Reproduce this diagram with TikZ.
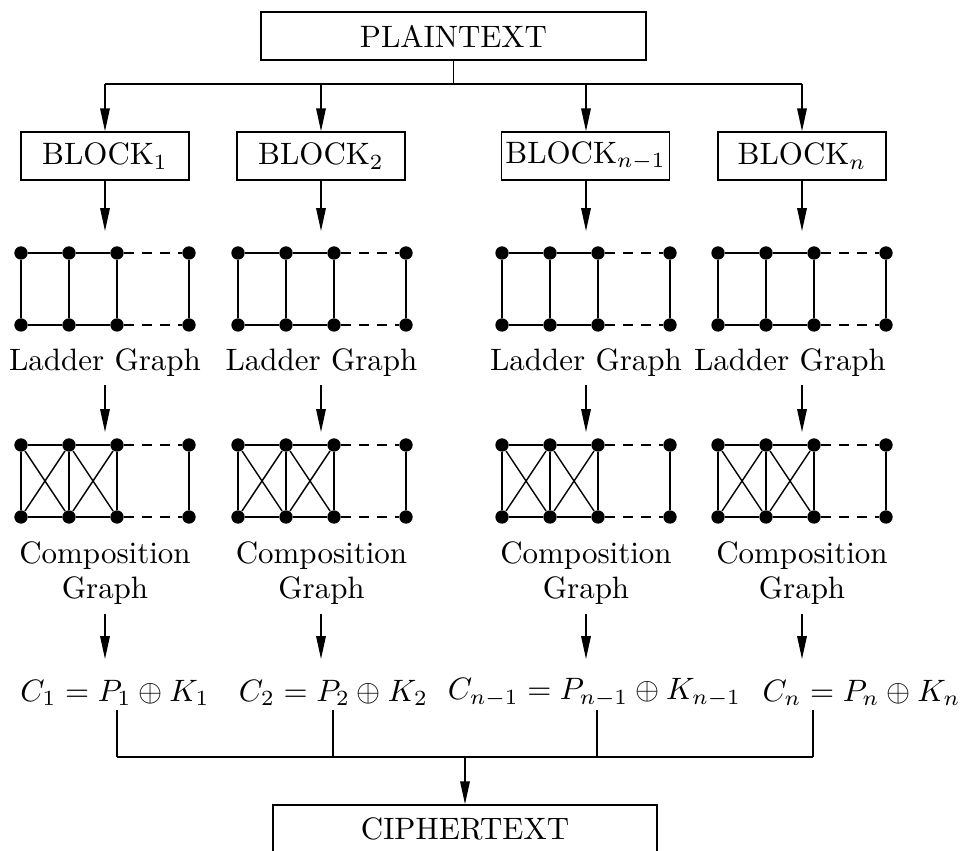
\documentclass[tikz,border=0pt]{standalone}
\usetikzlibrary{arrows.meta}
\newcommand{\mygraph}[4]{% #1 prefix, #2 left x, #3 top y, #4 crosses (1/0)
  \foreach \i/\dx in {1/0,2/48,3/96,4/168} {
    \node[dot] (#1t\i) at (#2+\dx,#3) {};
    \node[dot] (#1b\i) at (#2+\dx,#3+72) {};
  }
  \draw[gl] (#1t1) -- (#1t2) -- (#1t3);
  \draw[gl] (#1b1) -- (#1b2) -- (#1b3);
  \foreach \i in {1,...,4} {\draw[gl] (#1t\i) -- (#1b\i);}
  \draw[dsh] (#1t3) -- (#1t4);
  \draw[dsh] (#1b3) -- (#1b4);
  \ifnum#4=1
    \draw[dg] (#1t1) -- (#1b2);
    \draw[dg] (#1b1) -- (#1t2);
    \draw[dg] (#1t2) -- (#1b3);
    \draw[dg] (#1b2) -- (#1t3);
  \fi
}
\begin{document}
\begin{tikzpicture}[x=0.323pt,y=-0.323pt,
  box/.style={draw,line width=0.5pt,minimum height=15.5pt,inner sep=0pt},
  arr/.style={line width=0.45pt,-{Triangle[length=7.4pt,width=3.1pt]}},
  ln/.style={line width=0.45pt},
  dot/.style={circle,fill,inner sep=0pt,minimum size=4.3pt},
  gl/.style={line width=0.6pt},
  dg/.style={line width=0.45pt},
  dsh/.style={line width=0.6pt,dash pattern=on 3.2pt off 2.6pt},
  lbl/.style={inner sep=0pt,align=center}]
\useasboundingbox (0,0) rectangle (961,851);

% top
\node[box,minimum width=124.4pt] (pt) at (453.5,36) {PLAINTEXT};
\node[box,minimum width=54.3pt] (b1) at (105,156) {BLOCK$_1$};
\node[box,minimum width=54.3pt] (b2) at (321,156) {BLOCK$_2$};
\node[box,minimum width=54.3pt] (b3) at (585.5,156) {BLOCK$_{n-1}$};
\node[box,minimum width=54.3pt] (b4) at (802,156) {BLOCK$_n$};

\coordinate (h0) at (453.5,84);
\coordinate (h1) at (105,84);
\coordinate (h2) at (321,84);
\coordinate (h3) at (586,84);
\coordinate (h4) at (802,84);
\draw[ln] (pt) -- (h0);
\draw[ln] (h1) -- (h4);
\draw[arr] (h1) -- (b1);
\draw[arr] (h2) -- (b2);
\draw[arr] (h3) -- (b3.north -| h3);
\draw[arr] (h4) -- (b4);

% ladder graphs
\mygraph{la}{21}{253}{0}
\mygraph{lb}{238}{253}{0}
\mygraph{lc}{502}{253}{0}
\mygraph{ld}{718}{253}{0}

\coordinate (a1) at (105,231);
\coordinate (a2) at (321,231);
\coordinate (a3) at (586,231);
\coordinate (a4) at (802,231);
\draw[arr] (b1.south -| a1) -- (a1);
\draw[arr] (b2.south -| a2) -- (a2);
\draw[arr] (b3.south -| a3) -- (a3);
\draw[arr] (b4.south -| a4) -- (a4);

\node[lbl] (ll1) at (105,363) {Ladder Graph};
\node[lbl] (ll2) at (321.5,363) {Ladder Graph};
\node[lbl] (ll3) at (586,363) {Ladder Graph};
\node[lbl] (ll4) at (790,363) {Ladder Graph};

% composition graphs
\mygraph{ca}{21}{445}{1}
\mygraph{cb}{238}{445}{1}
\mygraph{cc}{502}{445}{1}
\mygraph{cd}{718}{445}{1}

\coordinate (s1) at (105,385); \coordinate (e1) at (105,432);
\coordinate (s2) at (321,385); \coordinate (e2) at (321,432);
\coordinate (s3) at (586,385); \coordinate (e3) at (586,432);
\coordinate (s4) at (802,385); \coordinate (e4) at (802,432);
\draw[arr] (s1) -- (e1);
\draw[arr] (s2) -- (e2);
\draw[arr] (s3) -- (e3);
\draw[arr] (s4) -- (e4);

\node[lbl] (cl1) at (105,573) {Composition\\[-0.7pt]Graph};
\node[lbl] (cl2) at (321.5,573) {Composition\\[-0.7pt]Graph};
\node[lbl] (cl3) at (586,573) {Composition\\[-0.7pt]Graph};
\node[lbl] (cl4) at (802,573) {Composition\\[-0.7pt]Graph};

\coordinate (f1) at (105,614); \coordinate (g1) at (105,659);
\coordinate (f2) at (321,614); \coordinate (g2) at (321,659);
\coordinate (f3) at (586,614); \coordinate (g3) at (586,659);
\coordinate (f4) at (802,614); \coordinate (g4) at (802,659);
\draw[arr] (f1) -- (g1);
\draw[arr] (f2) -- (g2);
\draw[arr] (f3) -- (g3);
\draw[arr] (f4) -- (g4);

% equations
\node[lbl] (q1) at (115,693) {$C_1 = P_1 \oplus K_1$};
\node[lbl] (q2) at (333.5,693) {$C_2 = P_2 \oplus K_2$};
\node[lbl] (q3) at (594.5,693) {$C_{n-1} = P_{n-1} \oplus K_{n-1}$};
\node[lbl] (q4) at (861.5,693) {$C_n = P_n \oplus K_n$};

\coordinate (j1) at (117,757);
\coordinate (j2) at (333,757);
\coordinate (j3) at (597,757);
\coordinate (j4) at (813,757);
\coordinate (j0) at (465,757);
\coordinate (u1) at (117,710);
\coordinate (u2) at (333,710);
\coordinate (u3) at (597,710);
\coordinate (u4) at (813,710);
\draw[ln] (u1) -- (j1);
\draw[ln] (u2) -- (j2);
\draw[ln] (u3) -- (j3);
\draw[ln] (u4) -- (j4);
\draw[ln] (j1) -- (j4);

\node[box,minimum width=124pt] (ct) at (465,829) {CIPHERTEXT};
\draw[arr] (j0) -- (ct);
\end{tikzpicture}
\end{document}
